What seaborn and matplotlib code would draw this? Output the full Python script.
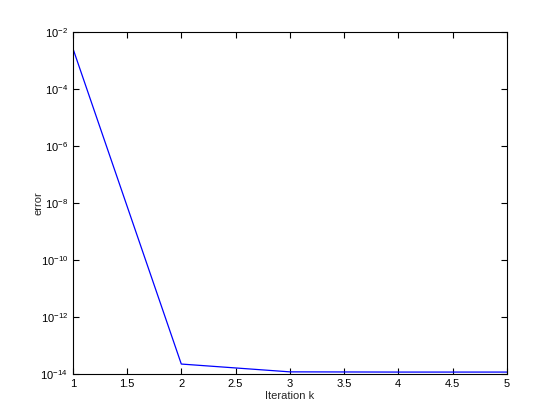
import matplotlib
matplotlib.use("Agg")
import matplotlib.pyplot as plt
import seaborn as sns
import pandas as pd
from matplotlib.ticker import FixedLocator, NullLocator, FuncFormatter

iterations = [1, 2, 3, 4, 5]
errors = [2.7e-3, 2.2e-14, 1.17e-14, 1.15e-14, 1.15e-14]

sns.set_style("ticks")
plt.rcParams['font.family'] = ['Liberation Sans', 'DejaVu Sans']

df = pd.DataFrame({"k": iterations, "error": errors})

fig = plt.figure(figsize=(5.6, 4.2), dpi=100)
ax = fig.add_axes([0.130, 0.110, 0.775, 0.814])
sns.lineplot(data=df, x="k", y="error", color="#0000ff", linewidth=0.9, ax=ax)
ax.set_yscale("log")
ax.set_xlim(1, 5)
ax.set_ylim(1e-14, 1e-2)
ax.xaxis.set_major_locator(FixedLocator([1, 1.5, 2, 2.5, 3, 3.5, 4, 4.5, 5]))
ax.xaxis.set_major_formatter(FuncFormatter(lambda v, p: f"{v:g}"))
ax.yaxis.set_major_locator(FixedLocator([1e-14, 1e-12, 1e-10, 1e-8, 1e-6, 1e-4, 1e-2]))
ax.yaxis.set_minor_locator(NullLocator())
ax.tick_params(direction="in", top=True, right=True, length=4, width=0.8, labelsize=8, colors="black")
for s in ax.spines.values():
    s.set_visible(True)
    s.set_linewidth(0.8)
    s.set_color("black")
ax.set_xlabel("Iteration k", fontsize=8, labelpad=2)
ax.set_ylabel("error", fontsize=8, labelpad=-2)
fig.savefig("out.png", dpi=100)
